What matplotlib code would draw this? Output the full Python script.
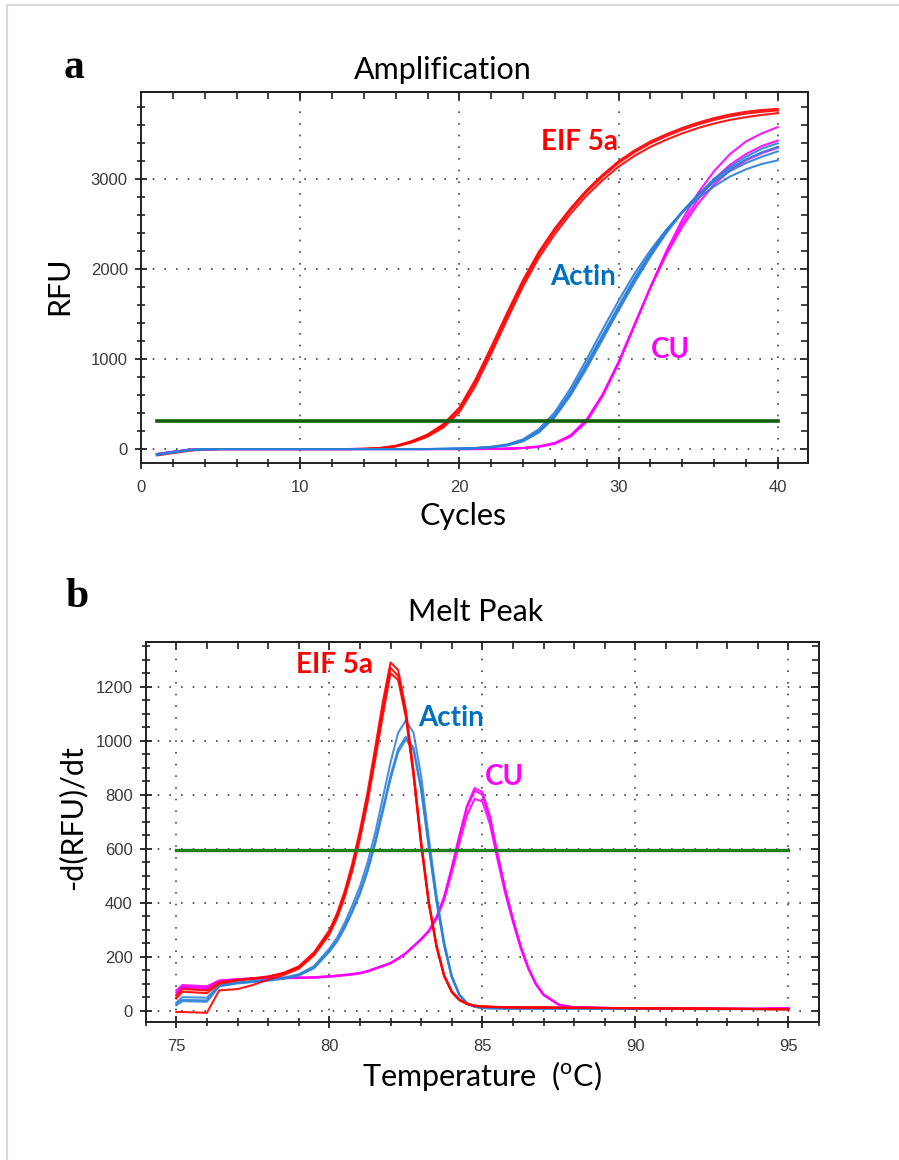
import matplotlib
matplotlib.use("Agg")
import matplotlib.pyplot as plt
from matplotlib.ticker import MultipleLocator
from matplotlib.lines import Line2D

# ---- amplification data (RFU per cycle) ----
cycles = list(range(1, 41))

eif_amp_1 = [-65, -40, -15, -3, 0, 0, 0, 0, 0, 0, 0, 0, 0, 2, 10, 32, 80, 150, 260, 440,
             740, 1100, 1480, 1850, 2170, 2430, 2660, 2860, 3030, 3180, 3300, 3400, 3480, 3550, 3610, 3660,
             3700, 3730, 3750, 3765]
eif_amp_2 = [-60, -35, -12, -2, 0, 0, 0, 0, 0, 0, 0, 0, 0, 3, 12, 36, 88, 162, 278, 462,
             770, 1135, 1515, 1880, 2195, 2455, 2680, 2880, 3050, 3200, 3320, 3420, 3500, 3570, 3630, 3680,
             3720, 3750, 3770, 3782]
eif_amp_3 = [-70, -45, -18, -4, 0, 0, 0, 0, 0, 0, 0, 0, 0, 2, 9, 28, 72, 138, 240, 410,
             700, 1060, 1440, 1810, 2130, 2390, 2620, 2820, 2990, 3140, 3260, 3360, 3440, 3510, 3570, 3620,
             3660, 3690, 3715, 3735]

actin_amp_1 = [-60, -35, -10, -2, 0, 0, 0, 0, 0, 0, 0, 0, 0, 0, 0, 0, 0, 0, 2, 5,
               10, 22, 45, 95, 200, 380, 640, 950, 1270, 1590, 1900, 2180, 2430, 2640, 2820, 2970,
               3090, 3180, 3250, 3310]
actin_amp_2 = [-62, -36, -11, -2, 0, 0, 0, 0, 0, 0, 0, 0, 0, 0, 0, 0, 0, 0, 2, 6,
               12, 26, 52, 108, 222, 410, 680, 1000, 1330, 1650, 1950, 2210, 2440, 2630, 2790, 2920,
               3030, 3110, 3170, 3210]
actin_amp_3 = [-58, -34, -10, -2, 0, 0, 0, 0, 0, 0, 0, 0, 0, 0, 0, 0, 0, 0, 2, 4,
               9, 20, 40, 86, 185, 355, 600, 900, 1220, 1540, 1850, 2140, 2400, 2630, 2830, 3000,
               3140, 3250, 3340, 3400]
actin_amp_4 = [-60, -35, -10, -2, 0, 0, 0, 0, 0, 0, 0, 0, 0, 0, 0, 0, 0, 0, 2, 5,
               10, 21, 43, 92, 195, 370, 625, 930, 1250, 1570, 1880, 2160, 2420, 2640, 2830, 2990,
               3120, 3220, 3300, 3360]

cu_amp_1 = [-55, -30, -8, -1, 0, 0, 0, 0, 0, 0, 0, 0, 0, 0, 0, 0, 0, 0, 0, 0,
            0, 2, 5, 12, 28, 65, 150, 320, 600, 960, 1380, 1800, 2180, 2510, 2780, 3000,
            3160, 3280, 3370, 3430]
cu_amp_2 = [-55, -30, -8, -1, 0, 0, 0, 0, 0, 0, 0, 0, 0, 0, 0, 0, 0, 0, 0, 0,
            0, 1, 4, 10, 24, 58, 140, 305, 590, 950, 1370, 1800, 2200, 2550, 2850, 3090,
            3280, 3420, 3510, 3580]
cu_amp_3 = [-55, -30, -8, -1, 0, 0, 0, 0, 0, 0, 0, 0, 0, 0, 0, 0, 0, 0, 0, 0,
            0, 2, 5, 13, 30, 68, 155, 330, 610, 970, 1385, 1790, 2160, 2470, 2730, 2940,
            3100, 3210, 3290, 3350]

amp_threshold = 315

# ---- melt peak data (-dRFU/dT per temperature) ----
temps = [75, 75.2, 76, 76.4, 77, 77.5, 78, 78.5, 79, 79.5, 80,
         80.25, 80.5, 80.75, 81, 81.25, 81.5, 81.75, 82, 82.25, 82.5, 82.75, 83, 83.25, 83.5, 83.75,
         84, 84.25, 84.5, 84.75, 85, 85.25, 85.5, 85.75, 86, 86.25, 86.5, 86.75, 87,
         87.5, 88, 89, 90, 91, 92, 93, 94, 95]

eif_melt_1 = [45, 70, 65, 100, 112, 118, 125, 138, 160, 210, 290,
              350, 430, 530, 650, 790, 950, 1120, 1270, 1240, 1100, 880, 620, 400, 240, 130,
              70, 40, 25, 18, 15, 14, 13, 13, 12, 12, 12, 12, 12,
              11, 11, 10, 9, 8, 8, 7, 6, 5]
eif_melt_2 = [55, 80, 75, 105, 114, 120, 127, 140, 164, 216, 298,
              360, 442, 545, 668, 810, 975, 1145, 1290, 1262, 1115, 890, 628, 405, 244, 132,
              72, 41, 26, 19, 16, 15, 14, 13, 13, 12, 12, 12, 12,
              11, 11, 10, 9, 9, 8, 7, 6, 6]
eif_melt_3 = [-5, -5, -8, 75, 80, 95, 115, 132, 155, 205, 282,
              342, 420, 518, 635, 772, 930, 1095, 1250, 1225, 1088, 870, 612, 395, 236, 128,
              68, 39, 24, 18, 15, 14, 13, 12, 12, 12, 11, 11, 11,
              11, 10, 10, 9, 8, 7, 7, 6, 4]

actin_melt_1 = [30, 50, 48, 95, 105, 110, 115, 122, 135, 165, 230,
                270, 325, 390, 460, 550, 660, 790, 920, 1030, 1075, 1030, 870, 640, 430, 255,
                130, 60, 28, 15, 10, 9, 9, 8, 8, 8, 8, 8, 8,
                8, 8, 8, 7, 7, 6, 6, 6, 6]
actin_melt_2 = [25, 40, 38, 92, 103, 108, 113, 120, 132, 160, 222,
                260, 312, 372, 440, 525, 630, 750, 870, 970, 1015, 975, 825, 610, 410, 245,
                125, 58, 27, 15, 10, 9, 9, 8, 8, 8, 8, 8, 8,
                8, 8, 8, 7, 7, 6, 6, 6, 6]
actin_melt_3 = [20, 35, 33, 90, 101, 106, 111, 118, 130, 157, 218,
                255, 305, 365, 432, 515, 618, 738, 858, 958, 1005, 965, 818, 605, 405, 242,
                123, 57, 26, 14, 10, 9, 8, 8, 8, 8, 8, 8, 8,
                8, 8, 7, 7, 7, 6, 6, 6, 6]

cu_melt_1 = [60, 85, 80, 108, 115, 118, 120, 120, 121, 122, 126,
             128, 131, 134, 138, 145, 155, 165, 175, 192, 212, 238, 265, 295, 345, 420,
             530, 650, 760, 825, 810, 720, 580, 450, 340, 240, 160, 100, 60,
             22, 12, 10, 9, 8, 8, 7, 7, 10]
cu_melt_2 = [68, 90, 85, 110, 116, 119, 121, 121, 122, 123, 127,
             129, 132, 135, 139, 146, 156, 166, 176, 193, 213, 239, 266, 296, 346, 421,
             528, 645, 752, 815, 800, 712, 574, 446, 337, 238, 159, 99, 59,
             22, 12, 10, 9, 8, 8, 7, 7, 10]
cu_melt_3 = [75, 95, 90, 112, 117, 120, 122, 122, 123, 124, 128,
             130, 133, 136, 140, 147, 157, 167, 177, 194, 213, 238, 264, 293, 340, 410,
             510, 620, 725, 785, 775, 690, 557, 433, 328, 232, 155, 97, 58,
             21, 12, 10, 9, 8, 8, 7, 7, 9]

melt_threshold = 595

red = "#ff0000"
blue = "#2b7fd8"
mag = "#ff00ff"
tick_col = "#3a3a3a"

plt.rcParams["font.family"] = ["Lato", "DejaVu Sans"]
plt.rcParams["mathtext.fontset"] = "custom"
plt.rcParams["mathtext.rm"] = "Lato"

fig = plt.figure(figsize=(8.99, 11.6), dpi=100)

# light frame at top and left like the screenshot
fig.add_artist(Line2D([7 / 899, 1], [1 - 5 / 1160, 1 - 5 / 1160], color="#d8d8d8", lw=1.5))
fig.add_artist(Line2D([7 / 899, 7 / 899], [0, 1 - 5 / 1160], color="#d8d8d8", lw=1.5))


def style_axes(ax, xmajor, xminor, ymajor, yminor):
    ax.xaxis.set_major_locator(MultipleLocator(xmajor))
    ax.xaxis.set_minor_locator(MultipleLocator(xminor))
    ax.yaxis.set_major_locator(MultipleLocator(ymajor))
    ax.yaxis.set_minor_locator(MultipleLocator(yminor))
    ax.tick_params(which="major", direction="inout", length=9, width=1.3, color="#222222")
    ax.tick_params(which="minor", direction="inout", length=6, width=1.2, color="#222222")
    ax.tick_params(labelsize=12, labelcolor=tick_col, labelfontfamily="Liberation Sans")
    ax.tick_params(axis="x", pad=8)
    ax.tick_params(axis="y", pad=5)
    for s in ax.spines.values():
        s.set_linewidth(1.4)
        s.set_color("#222222")
    ax.grid(True, which="major", color="#444444", linestyle=(0, (1, 6)), linewidth=1.2)
    # inward ticks on top and right
    top = ax.secondary_xaxis("top")
    top.xaxis.set_major_locator(MultipleLocator(xmajor))
    top.xaxis.set_minor_locator(MultipleLocator(xminor))
    top.tick_params(which="major", direction="in", length=6, width=1.3, labeltop=False, color="#222222")
    top.tick_params(which="minor", direction="in", length=5, width=1.2, color="#222222")
    right = ax.secondary_yaxis("right")
    right.yaxis.set_major_locator(MultipleLocator(ymajor))
    right.yaxis.set_minor_locator(MultipleLocator(yminor))
    right.tick_params(which="major", direction="in", length=6, width=1.3, labelright=False, color="#222222")
    right.tick_params(which="minor", direction="in", length=5, width=1.2, color="#222222")
    for s in top.spines.values():
        s.set_linewidth(1.4)
    for s in right.spines.values():
        s.set_linewidth(1.4)


# ---------------- panel a ----------------
ax1 = fig.add_axes([141 / 899, 1 - 463 / 1160, (808 - 141) / 899, (463 - 92) / 1160])
ax1.set_xlim(0, 41.9)
ax1.set_ylim(-155, 3970)
style_axes(ax1, 10, 2, 1000, 200)

for y in (eif_amp_1, eif_amp_2, eif_amp_3):
    ax1.plot(cycles, y, color=red, lw=1.5, alpha=0.9)
for y in (cu_amp_1, cu_amp_2, cu_amp_3):
    ax1.plot(cycles, y, color=mag, lw=1.5, alpha=0.9)
for y in (actin_amp_1, actin_amp_2, actin_amp_3, actin_amp_4):
    ax1.plot(cycles, y, color=blue, lw=1.5, alpha=0.9)
ax1.plot([cycles[0], cycles[-1]], [amp_threshold, amp_threshold], color="#0f5f0f", lw=2.6)

ax1.text(25.1, 3415, "EIF 5a", color=red, fontsize=20, fontweight="bold", va="center")
ax1.text(25.7, 1913, "Actin", color="#0070c0", fontsize=20, fontweight="bold", va="center")
ax1.text(32.0, 1100, "CU", color=mag, fontsize=20, fontweight="bold", va="center")

fig.text(443 / 899, 1 - 79 / 1160, "Amplification", ha="center", va="baseline", fontsize=22)
fig.text(463 / 899, 1 - 525 / 1160, "Cycles", ha="center", va="baseline", fontsize=22)
fig.text(59 / 899, 1 - 286 / 1160, "RFU", ha="center", va="center", rotation=90, fontsize=22)
fig.text(74 / 899, 1 - 78 / 1160, "a", ha="center", va="baseline", fontsize=30,
         fontweight="bold", family="Liberation Serif")

# ---------------- panel b ----------------
ax2 = fig.add_axes([145.7 / 899, 1 - 1022 / 1160, (819 - 145.7) / 899, (1022 - 641.7) / 1160])
ax2.set_xlim(74, 96)
ax2.set_ylim(-42, 1367)
style_axes(ax2, 5, 1, 200, 50)

for y in (cu_melt_1, cu_melt_2, cu_melt_3):
    ax2.plot(temps, y, color=mag, lw=1.5, alpha=0.9)
for y in (actin_melt_1, actin_melt_2, actin_melt_3):
    ax2.plot(temps, y, color=blue, lw=1.5, alpha=0.85)
for y in (eif_melt_1, eif_melt_2, eif_melt_3):
    ax2.plot(temps, y, color=red, lw=1.5, alpha=0.9)
ax2.plot([temps[0], temps[-1]], [melt_threshold, melt_threshold], color="#1f7f1f", lw=2.4)

ax2.text(78.9, 1280, "EIF 5a", color=red, fontsize=20, fontweight="bold", va="center")
ax2.text(82.9, 1084, "Actin", color="#0070c0", fontsize=20, fontweight="bold", va="center")
ax2.text(85.07, 867, "CU", color=mag, fontsize=20, fontweight="bold", va="center")

fig.text(476 / 899, 1 - 621 / 1160, "Melt Peak", ha="center", va="baseline", fontsize=22)
fig.text(482 / 899, 1 - 1086 / 1160, r"Temperature  ($^{\mathrm{o}}$C)", ha="center", va="baseline",
         fontsize=22)
fig.text(72 / 899, 1 - 818 / 1160, "-d(RFU)/dt", ha="center", va="center", rotation=90, fontsize=22)
fig.text(77 / 899, 1 - 607 / 1160, "b", ha="center", va="baseline", fontsize=30,
         fontweight="bold", family="Liberation Serif")

fig.savefig("out.png", dpi=100)
